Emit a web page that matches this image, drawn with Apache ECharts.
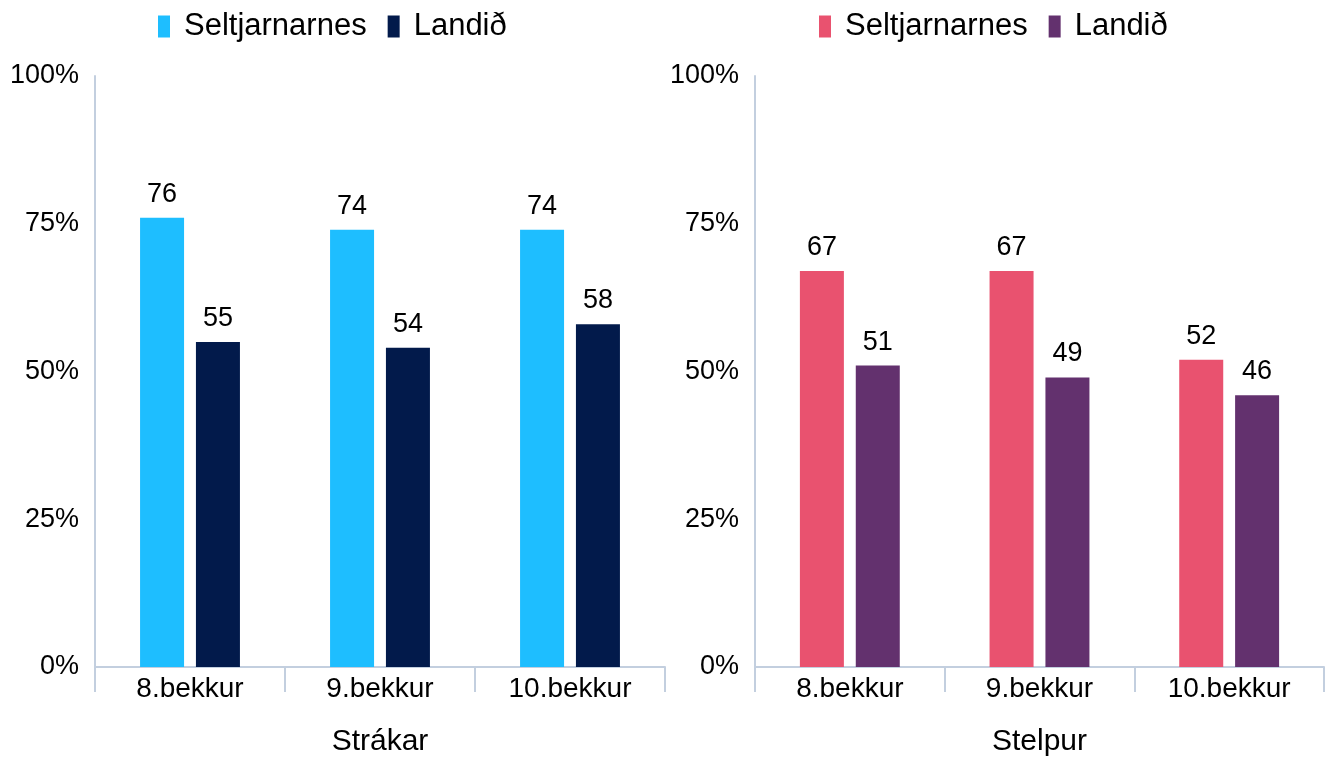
<!DOCTYPE html>
<html>
<head>
<meta charset="utf-8">
<script src="https://cdn.jsdelivr.net/npm/echarts@6/dist/echarts.min.js"></script>
<style>
  html, body { margin: 0; padding: 0; background: #fff; }
  #chart { width: 1337px; height: 762px; }
</style>
</head>
<body>
<div id="chart"></div>
<script>
  // flokkar og gildi
  var categories = ['8.bekkur', '9.bekkur', '10.bekkur'];
  var seriesNames = ['Seltjarnarnes', 'Landið'];
  var groupNames = ['Strákar', 'Stelpur'];
  var boysSeltjarnarnes = [76, 74, 74];
  var boysLandid = [55, 54, 58];
  var girlsSeltjarnarnes = [67, 67, 52];
  var girlsLandid = [51, 49, 46];
  var yTicks = [0, 25, 50, 75, 100];

  var font = '"Liberation Sans", Arial, sans-serif';
  var axisColor = '#c3cfdf';
  var colors = [['#1ebeff', '#021a4b'], ['#e9526f', '#63316e']];

  function xAxis(idx) {
    return {
      type: 'category',
      gridIndex: idx,
      data: categories,
      name: groupNames[idx],
      nameLocation: 'middle',
      nameGap: 60,
      nameTextStyle: { fontFamily: font, fontSize: 30, color: '#000' },
      axisLine: { lineStyle: { color: axisColor, width: 2 } },
      axisTick: { show: true, length: 25, lineStyle: { color: axisColor, width: 2 } },
      axisLabel: { fontFamily: font, fontSize: 28, color: '#000', margin: 8 },
      splitLine: { show: false }
    };
  }

  function yAxis(idx) {
    return {
      type: 'value',
      gridIndex: idx,
      min: yTicks[0],
      max: yTicks[yTicks.length - 1],
      interval: 25,
      axisLine: { show: true, lineStyle: { color: axisColor, width: 2 } },
      axisTick: { show: false },
      splitLine: { show: false },
      axisLabel: { fontFamily: font, fontSize: 27, color: '#000', margin: 16, formatter: '{value}%' }
    };
  }

  function bar(name, data, idx, color) {
    return {
      name: name,
      type: 'bar',
      xAxisIndex: idx,
      yAxisIndex: idx,
      data: data,
      barWidth: 44,
      barGap: '27%',
      itemStyle: { color: color },
      label: {
        show: true,
        position: 'top',
        distance: 10,
        fontFamily: font,
        fontSize: 27,
        color: '#000'
      }
    };
  }

  function legend(idx, left) {
    return {
      left: left,
      top: 6,
      data: seriesNames.map(function (n, i) {
        return { name: idx ? n + ' ' : n, itemStyle: { color: colors[idx][i] } };
      }),
      formatter: function (n) { return n.trim(); },
      icon: 'rect',
      itemWidth: 12,
      itemHeight: 22,
      itemGap: 21,
      selectedMode: false,
      textStyle: { fontFamily: font, fontSize: 31, color: '#000', padding: [0, 0, 0, 9] }
    };
  }

  var chart = echarts.init(document.getElementById('chart'));
  chart.setOption({
    backgroundColor: '#fff',
    animation: false,
    legend: [legend(0, 153), legend(1, 814)],
    grid: [
      { left: 95, top: 76, width: 570, height: 594 },
      { left: 755, top: 76, width: 569, height: 594 }
    ],
    xAxis: [xAxis(0), xAxis(1)],
    yAxis: [yAxis(0), yAxis(1)],
    series: [
      bar(seriesNames[0], boysSeltjarnarnes, 0, colors[0][0]),
      bar(seriesNames[1], boysLandid, 0, colors[0][1]),
      bar(seriesNames[0] + ' ', girlsSeltjarnarnes, 1, colors[1][0]),
      bar(seriesNames[1] + ' ', girlsLandid, 1, colors[1][1])
    ]
  });
</script>
</body>
</html>
